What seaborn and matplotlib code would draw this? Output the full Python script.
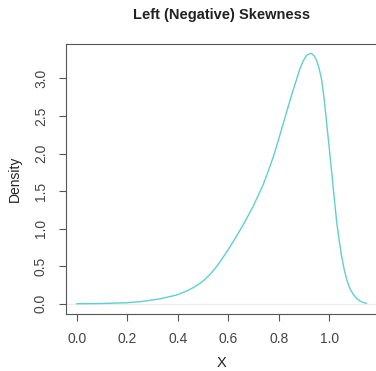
import matplotlib
matplotlib.use("Agg")
import matplotlib.pyplot as plt
import seaborn as sns
import pandas as pd

# density curve
x_vals = [0.0, 0.1, 0.197, 0.26, 0.33, 0.396, 0.436, 0.462, 0.488, 0.508, 0.528,
          0.548, 0.568, 0.60, 0.633, 0.666, 0.699, 0.72, 0.739, 0.759, 0.779,
          0.798, 0.818, 0.851, 0.870, 0.884, 0.898, 0.911, 0.928, 0.940, 0.950,
          0.960, 0.970, 0.980, 0.990, 1.000, 1.010, 1.020, 1.030, 1.040, 1.049,
          1.059, 1.069, 1.082, 1.096, 1.109, 1.122, 1.135, 1.148]
dens = [0.0, 0.003, 0.013, 0.03, 0.065, 0.116, 0.17, 0.215, 0.27, 0.325, 0.39,
        0.47, 0.56, 0.72, 0.90, 1.09, 1.30, 1.45, 1.59, 1.77, 1.96,
        2.17, 2.40, 2.78, 2.98, 3.13, 3.24, 3.31, 3.335, 3.30, 3.24,
        3.13, 2.98, 2.72, 2.40, 2.07, 1.74, 1.40, 1.07, 0.83, 0.63,
        0.46, 0.32, 0.20, 0.12, 0.07, 0.036, 0.015, 0.005]
x_ticks = [0.0, 0.2, 0.4, 0.6, 0.8, 1.0]
y_ticks = [0.0, 0.5, 1.0, 1.5, 2.0, 2.5, 3.0]

df = pd.DataFrame({"x": x_vals, "density": dens})

sns.set_style("white")
plt.rcParams["font.family"] = ["Liberation Sans", "DejaVu Sans"]

fig = plt.figure(figsize=(3.76, 3.71), dpi=100)
ax = fig.add_axes([66 / 376, 1 - 314 / 371, 313 / 376, 270 / 371])

ax.axhline(0, color="#ececec", lw=0.8, zorder=1)
sns.lineplot(data=df, x="x", y="density", ax=ax, color="#5fd0d2", lw=1.0, zorder=2)

ax.set_xlim(-0.0424, 1.197)
ax.set_ylim(-0.137, 3.458)
ax.set_xticks(x_ticks)
ax.set_yticks(y_ticks)
ax.set_xticklabels([f"{v:.1f}" for v in x_ticks])
ax.set_yticklabels([f"{v:.1f}" for v in y_ticks])
ax.set_xlabel("")
ax.set_ylabel("")

for side in ["left", "top", "bottom", "right"]:
    ax.spines[side].set_color("#555555")
    ax.spines[side].set_linewidth(0.8)

ax.tick_params(axis="both", direction="out", length=5, width=0.8, color="#555555",
               labelsize=10, labelcolor="#444444", left=True, bottom=True)
ax.tick_params(axis="x", pad=8)
ax.tick_params(axis="y", pad=8)
plt.setp(ax.get_yticklabels(), rotation=90, va="center")

fig.text(222 / 376, 1 - 15 / 371, "Left (Negative) Skewness", ha="center", va="center",
         fontsize=10.5, fontweight="bold", color="#222222")
fig.text(15 / 376, 1 - 179 / 371, "Density", ha="center", va="center", rotation=90,
         fontsize=10, color="#222222")
fig.text(222 / 376, 1 - 363 / 371, "X", ha="center", va="center",
         fontsize=10.5, color="#222222")

fig.savefig("out.png", dpi=100)
